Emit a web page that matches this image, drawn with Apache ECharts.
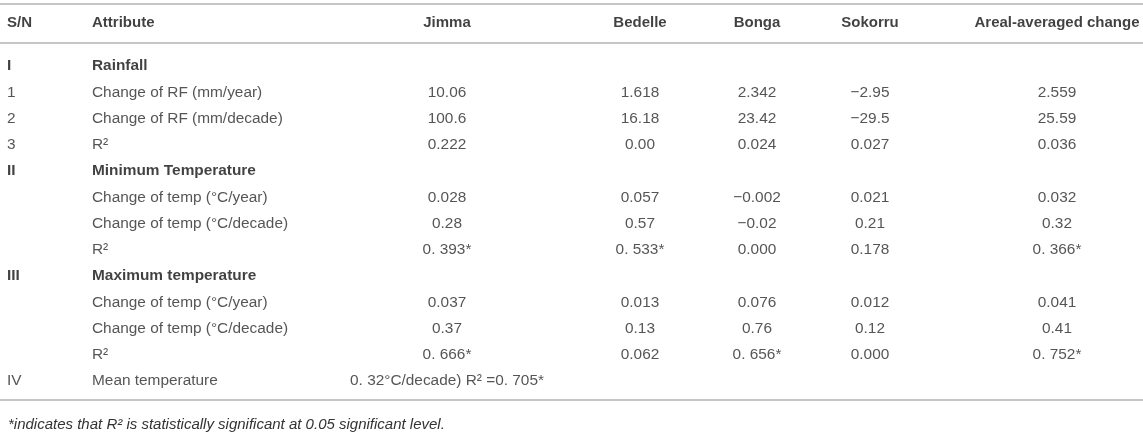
<!DOCTYPE html>
<html>
<head>
    <meta charset="utf-8" />
    <title>Rainfall and temperature trends</title>
    <style>
        html, body { margin: 0; padding: 0; background: #fff; }
        #table1 { width: 1143px; height: 434px; }
    </style>
</head>
<body>
    <div id="table1"></div>

    <script src="https://cdn.jsdelivr.net/npm/echarts@6/dist/echarts.min.js"></script>
    <script type="text/javascript">

        // table content
        var columns = ['S/N', 'Attribute', 'Jimma', 'Bedelle', 'Bonga', 'Sokorru', 'Areal-averaged change'];
        var serial = ['I', '1', '2', '3', 'II', '', '', '', 'III', '', '', '', 'IV'];
        var attributes = ['Rainfall', 'Change of RF (mm/year)', 'Change of RF (mm/decade)', 'R²',
            'Minimum Temperature', 'Change of temp (°C/year)', 'Change of temp (°C/decade)', 'R²',
            'Maximum temperature', 'Change of temp (°C/year)', 'Change of temp (°C/decade)', 'R²',
            'Mean temperature'];
        var headingRows = [0, 4, 8];
        var jimma = ['', '10.06', '100.6', '0.222', '', '0.028', '0.28', '0. 393*', '', '0.037', '0.37', '0. 666*', '0. 32°C/decade) R² =0. 705*'];
        var bedelle = ['', '1.618', '16.18', '0.00', '', '0.057', '0.57', '0. 533*', '', '0.013', '0.13', '0.062', ''];
        var bonga = ['', '2.342', '23.42', '0.024', '', '−0.002', '−0.02', '0.000', '', '0.076', '0.76', '0. 656*', ''];
        var sokorru = ['', '−2.95', '−29.5', '0.027', '', '0.021', '0.21', '0.178', '', '0.012', '0.12', '0.000', ''];
        var areal = ['', '2.559', '25.59', '0.036', '', '0.032', '0.32', '0. 366*', '', '0.041', '0.41', '0. 752*', ''];
        var footnote = '*indicates that R² is statistically significant at 0.05 significant level.';

        // layout: where each column sits on the x axis, and how it is aligned
        var colX = [7, 92, 447, 640, 757, 870, 1057];
        var colAlign = ['left', 'left', 'center', 'center', 'center', 'center', 'center'];
        var headerRow = -0.65;
        var font = "'Liberation Sans', Arial, sans-serif";

        var table1 = echarts.init(document.getElementById('table1'));

        var cells = [serial, attributes, jimma, bedelle, bonga, sokorru, areal];

        var series = cells.map(function (col, c) {
            var data = [{
                value: [colX[c], headerRow, columns[c]],
                label: { fontWeight: 'bold', color: '#111', fontSize: 15 }
            }];
            col.forEach(function (txt, r) {
                if (!txt) return;
                var bold = c < 2 && headingRows.indexOf(r) >= 0;
                data.push({
                    value: [colX[c], r + 1, txt],
                    label: bold ? { fontWeight: 'bold', color: '#111' } : {}
                });
            });
            return {
                type: 'scatter',
                symbolSize: 0,
                silent: true,
                data: data,
                label: {
                    show: true,
                    position: colAlign[c] === 'left' ? 'right' : 'inside',
                    distance: 0,
                    fontFamily: font,
                    fontSize: 15.4,
                    color: '#2a2a2a',
                    formatter: function (p) { return p.value[2]; }
                }
            };
        });

        // rules: top, under the header, bottom
        series[0].markLine = {
            silent: true,
            symbol: 'none',
            label: { show: false },
            lineStyle: { color: '#b3b3b3', width: 1.6, type: 'solid' },
            data: [{ yAxis: -1.37 }, { yAxis: 0.1 }, { yAxis: 13.7 }]
        };

        table1.setOption({
            animation: false,
            title: {
                text: footnote,
                left: 3,
                top: 412,
                textStyle: {
                    fontFamily: font,
                    fontSize: 15,
                    fontStyle: 'italic',
                    fontWeight: 'normal',
                    color: '#333'
                }
            },
            grid: { left: 0, right: 0, top: 3, bottom: 34 },
            xAxis: { type: 'value', min: 0, max: 1143, show: false },
            yAxis: { type: 'value', min: -1.4, max: 13.72, inverse: true, show: false },
            series: series
        });

    </script>
</body>
</html>
